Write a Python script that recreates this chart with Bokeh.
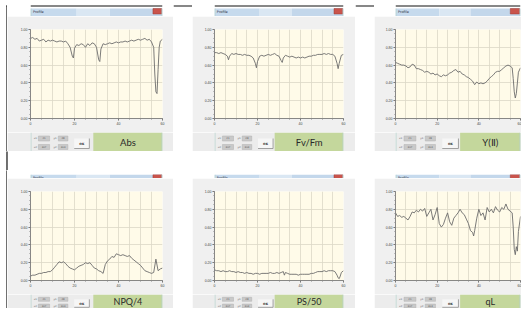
from bokeh.plotting import figure
from bokeh.models import FixedTicker, Range1d, PrintfTickFormatter, GridBox
from bokeh.embed import file_html
from bokeh.resources import INLINE
from bokeh.core.properties import value

# ---------------- data ----------------
ABS = [(0,0.90),(1,0.91),(2,0.89),(3,0.90),(4,0.87),(5,0.88),(6,0.89),(7,0.86),(8,0.88),(9,0.87),
       (10,0.88),(11,0.87),(12,0.86),(13,0.87),(14,0.87),(15,0.86),(16,0.87),(17,0.84),(18,0.80),(19,0.70),
       (19.5,0.68),(20,0.79),(21,0.83),(22,0.82),(23,0.84),(24,0.83),(25,0.80),(26,0.84),(27,0.82),(28,0.85),
       (29,0.84),(30,0.80),(31,0.66),(31.5,0.64),(32,0.78),(33,0.84),(34,0.83),(35,0.84),(36,0.85),(37,0.84),
       (38,0.85),(39,0.86),(40,0.85),(41,0.86),(42,0.86),(43,0.87),(44,0.86),(45,0.87),(46,0.88),(47,0.87),
       (48,0.88),(49,0.89),(50,0.88),(51,0.89),(52,0.90),(53,0.88),(54,0.89),(55,0.86),(56,0.80),(56.5,0.50),
       (57,0.30),(57.5,0.28),(58,0.55),(58.5,0.80),(59,0.87),(60,0.89)]
FVFM = [(0,0.74),(1,0.74),(2,0.73),(3,0.74),(4,0.73),(5,0.72),(6,0.70),(6.5,0.66),(7,0.70),(8,0.73),
        (9,0.72),(10,0.73),(11,0.72),(12,0.72),(13,0.71),(14,0.72),(15,0.71),(16,0.71),(17,0.70),(18,0.68),
        (19,0.62),(19.5,0.57),(20,0.64),(21,0.70),(22,0.71),(23,0.70),(24,0.71),(25,0.72),(26,0.71),(27,0.72),
        (28,0.73),(29,0.71),(30,0.70),(31,0.65),(31.5,0.63),(32,0.68),(33,0.71),(34,0.70),(35,0.69),(36,0.70),
        (37,0.69),(38,0.68),(39,0.69),(40,0.68),(41,0.69),(42,0.68),(43,0.69),(44,0.70),(45,0.70),(46,0.71),
        (47,0.71),(48,0.72),(49,0.72),(50,0.72),(51,0.73),(52,0.72),(53,0.73),(54,0.72),(55,0.72),(56,0.70),
        (57,0.62),(57.5,0.56),(58,0.62),(59,0.71),(60,0.72)]
YII = [(0,0.63),(1,0.62),(2,0.61),(3,0.60),(4,0.60),(5,0.59),(6,0.57),(7,0.58),(8,0.61),(9,0.60),
       (10,0.56),(11,0.56),(12,0.55),(13,0.54),(14,0.52),(15,0.53),(16,0.52),(17,0.50),(18,0.51),(19,0.49),
       (20,0.50),(21,0.48),(22,0.47),(23,0.49),(24,0.48),(25,0.49),(26,0.51),(27,0.52),(28,0.54),(29,0.55),
       (30,0.52),(31,0.53),(32,0.50),(33,0.49),(34,0.47),(35,0.46),(36,0.44),(37,0.42),(38,0.38),(39,0.41),
       (40,0.39),(41,0.40),(42,0.39),(43,0.40),(44,0.42),(45,0.45),(46,0.47),(47,0.49),(48,0.52),(49,0.53),
       (50,0.53),(51,0.55),(52,0.57),(53,0.59),(54,0.60),(55,0.59),(56,0.57),(56.5,0.45),(57,0.30),(57.5,0.23),
       (58,0.28),(58.5,0.40),(59,0.52),(60,0.57)]
NPQ4 = [(0,0.05),(1,0.06),(2,0.06),(3,0.07),(4,0.08),(5,0.08),(6,0.09),(7,0.09),(8,0.10),(9,0.10),
        (10,0.12),(11,0.15),(12,0.18),(13,0.21),(14,0.20),(15,0.21),(16,0.19),(17,0.16),(18,0.14),(19,0.13),
        (20,0.12),(21,0.14),(22,0.16),(23,0.17),(24,0.18),(25,0.20),(26,0.19),(27,0.20),(28,0.17),(29,0.14),
        (30,0.13),(31,0.11),(32,0.10),(33,0.08),(34,0.18),(35,0.22),(36,0.24),(37,0.27),(38,0.26),(39,0.30),
        (40,0.29),(41,0.28),(42,0.29),(43,0.28),(44,0.27),(45,0.28),(46,0.25),(47,0.23),(48,0.21),(49,0.19),
        (50,0.17),(51,0.14),(52,0.11),(53,0.10),(54,0.09),(55,0.08),(56,0.09),(57,0.24),(58,0.11),(59,0.13),
        (60,0.14)]
PS50 = [(0,0.12),(1,0.11),(2,0.11),(3,0.10),(4,0.11),(5,0.10),(6,0.10),(7,0.11),(8,0.10),(9,0.10),
        (10,0.09),(11,0.10),(12,0.09),(13,0.09),(14,0.08),(15,0.09),(16,0.08),(17,0.08),(18,0.07),(19,0.08),
        (20,0.08),(21,0.07),(22,0.08),(23,0.08),(24,0.08),(25,0.08),(26,0.09),(27,0.08),(28,0.08),(29,0.09),
        (30,0.08),(31,0.09),(32,0.10),(32.5,0.06),(33,0.09),(34,0.08),(35,0.07),(36,0.07),(37,0.07),(38,0.07),
        (39,0.06),(40,0.07),(41,0.07),(42,0.07),(43,0.07),(44,0.07),(45,0.08),(46,0.08),(47,0.09),(48,0.10),
        (49,0.10),(50,0.10),(51,0.11),(52,0.10),(53,0.11),(54,0.11),(55,0.11),(56,0.10),(57,0.06),(57.5,0.03),
        (58,0.02),(58.5,0.05),(59,0.09),(60,0.11)]
QL = [(0,0.76),(1,0.72),(2,0.73),(3,0.71),(4,0.72),(5,0.70),(6,0.68),(7,0.72),(8,0.77),(9,0.76),
      (10,0.79),(11,0.77),(12,0.80),(13,0.78),(14,0.81),(15,0.72),(16,0.76),(17,0.80),(18,0.68),(19,0.74),
      (20,0.82),(21,0.64),(22,0.60),(23,0.63),(24,0.70),(25,0.76),(26,0.66),(27,0.62),(28,0.70),(29,0.73),
      (30,0.76),(31,0.80),(32,0.76),(33,0.74),(34,0.69),(35,0.64),(36,0.56),(37,0.54),(37.5,0.50),(38,0.56),
      (39,0.70),(40,0.80),(41,0.73),(42,0.76),(43,0.68),(44,0.82),(45,0.77),(46,0.80),(47,0.76),(48,0.83),
      (49,0.79),(50,0.77),(51,0.82),(52,0.80),(53,0.86),(54,0.80),(55,0.78),(56,0.76),(56.5,0.60),(57,0.35),
      (57.5,0.29),(58,0.38),(58.5,0.33),(59,0.55),(60,0.72)]

SERIES = [ABS, FVFM, YII, NPQ4, PS50, QL]
LABELS = ["Abs", "Fv/Fm", "Y(Ⅱ)", "NPQ/4", "PS/50", "qL"]
X_TICKS = [0, 20, 40, 60]
Y_TICKS = [0.0, 0.2, 0.4, 0.6, 0.8, 1.0]
FIELD_NAMES = ["x1:", "y1:", "x2:", "y2:"]
FIELD_VALUES = ["21", "28", "307", "304"]
WINDOW_TITLE = "Profile"

# ---------------- layout geometry (pixels; whole page kept within 521 x 308) ----------------
LEFT_W = 7
WIN_W = [166, 163, 147]
FRAME_L = [23, 22, 21]
FRAME_R = [11, 12, 1]
GREEN_L = [79, 76, 76]
TOPPAD_H, TITLE_H, CHART_H, CTRL_H = 8, 8, 116, 19
GAP_X, GAP_Y = 19, 19
CTRL2_H = 14                       # bottom row: panel slightly compacted to stay on the page
COL_W = [LEFT_W, WIN_W[0], GAP_X, WIN_W[1], GAP_X, WIN_W[2]]
ROW_H = [TOPPAD_H + TITLE_H, CHART_H, CTRL_H, GAP_Y, TITLE_H, CHART_H, CTRL2_H]
PAGE_W = sum(COL_W)

WIN_BG = "#f0f0f0"
PLOT_BG = "#fffbe9"
GRID = "#dcd8c6"
GREEN = "#c4d79c"
BORDER = "#b4d2cc"
INK = "#111111"


def helper_fig(w, h, bg, y0=0, y1=None):
    y1 = y0 + h if y1 is None else y1
    p = figure(width=w, height=h, x_range=Range1d(0, w), y_range=Range1d(y0, y1), title=None,
               output_backend="svg", toolbar_location=None,
               x_axis_type=None, y_axis_type=None, min_border=0)
    p.outline_line_color = None
    p.background_fill_color = bg
    p.border_fill_color = bg
    for g in p.grid:
        g.visible = False
    return p


def rule_h(p, x0, x1, y):
    p.quad(left=[x0], right=[x1], bottom=[y - 0.6], top=[y + 0.6], color=INK, line_color=None)


def rule_v(p, x, y0, y1):
    p.quad(left=[x - 0.6], right=[x + 0.6], bottom=[y0], top=[y1], color=INK, line_color=None)


def title_bar(w, first_row):
    h = TITLE_H + (TOPPAD_H if first_row else 0)
    p = helper_fig(w, h, "#ffffff")
    p.quad(left=[0, w * 0.35, w * 0.6], right=[w * 0.35, w * 0.6, w],
           bottom=[0, 0, 0], top=[TITLE_H] * 3,
           color=["#c6daed", "#dae7f3", "#c3d7eb"], line_color=None)
    p.quad(left=[w - 12], right=[w - 1], bottom=[2.5], top=[8], color="#c9544c", line_color="#9a3a34",
           line_width=0.5)
    p.text(x=[3], y=[4.3], text=[WINDOW_TITLE], text_font=value("DejaVu Sans"),
           text_font_size=value("3.5px"), text_color="#334", text_baseline="middle")
    p.segment(x0=[0.5, w - 0.5], y0=[0, 0], x1=[0.5, w - 0.5], y1=[TITLE_H, TITLE_H],
              line_color=BORDER, line_width=1)
    if first_row:
        rule_h(p, 0, w, h - 5.5)
    return p


def chart(w, fl, fr, data):
    xs = [d[0] for d in data]
    ys = [d[1] for d in data]
    p = figure(width=w, height=CHART_H, x_range=Range1d(0, 60), y_range=Range1d(0, 1), title=None,
               output_backend="svg", toolbar_location=None,
               min_border_left=fl, min_border_right=fr, min_border_top=13, min_border_bottom=14)
    p.background_fill_color = PLOT_BG
    p.border_fill_color = WIN_BG
    p.outline_line_color = None
    p.xaxis.ticker = FixedTicker(ticks=X_TICKS, minor_ticks=list(range(0, 61, 5)))
    p.yaxis.ticker = FixedTicker(ticks=Y_TICKS, minor_ticks=[i / 20 for i in range(21)])
    p.yaxis.formatter = PrintfTickFormatter(format="%.2f")
    p.xgrid.ticker = FixedTicker(ticks=list(range(0, 61, 5)))
    p.ygrid.ticker = FixedTicker(ticks=Y_TICKS)
    p.grid.grid_line_color = GRID
    p.grid.grid_line_width = 0.8
    for ax in (p.xaxis[0], p.yaxis[0]):
        ax.axis_label = None
        ax.axis_line_color = "#6a6a6a"
        ax.axis_line_width = 0.8
        ax.major_tick_line_color = "#6a6a6a"
        ax.minor_tick_line_color = "#8a8a8a"
        ax.major_tick_in = 0
        ax.major_tick_out = 2
        ax.minor_tick_in = 0
        ax.minor_tick_out = 1
        ax.major_label_text_font_size = "3.5px"
        ax.major_label_text_color = "#444"
        ax.major_label_standoff = 1
    p.line(xs, ys, line_color="#6c6c6c", line_width=0.9)
    return p


def controls(w, gl, label, h):
    # the panel is laid out on a 0..19 scale; a shorter panel shows the range 1.5..19 compacted
    y0 = 0 if h == CTRL_H else 1.5
    p = helper_fig(w, h, "#ececec", y0=y0, y1=CTRL_H)
    rows_y = [(10.5, 15.5), (2, 7)]
    i = 0
    for (b, t) in rows_y:
        for (lx, bx0, bx1) in [(4, 10, 24), (29, 35, 47)]:
            p.text(x=[lx], y=[(b + t) / 2], text=[FIELD_NAMES[i]], text_font=value("DejaVu Sans"),
                   text_font_size=value("2.5px"), text_color="#555", text_baseline="middle")
            p.quad(left=[bx0], right=[bx1], bottom=[b], top=[t],
                   color="#c9c9c9", line_color="#b0b0b0", line_width=0.5)
            p.text(x=[(bx0 + bx1) / 2], y=[(b + t) / 2], text=[FIELD_VALUES[i]],
                   text_font=value("DejaVu Sans"), text_font_size=value("2.5px"), text_color="#555",
                   text_align="center", text_baseline="middle")
            i += 1
    # OK button
    p.quad(left=[55], right=[74], bottom=[3], top=[13], color="#f6f6f6", line_color=None)
    p.segment(x0=[55, 74], y0=[3, 3], x1=[74, 74], y1=[3, 13], line_color="#8c8c8c", line_width=0.8)
    p.text(x=[64.5], y=[8], text=["OK"], text_font=value("DejaVu Sans"),
           text_font_size=value("3px"), text_font_style="bold", text_color="#333",
           text_align="center", text_baseline="middle")
    # green label box
    p.quad(left=[gl], right=[w], bottom=[0], top=[CTRL_H], color=GREEN, line_color=None)
    p.text(x=[(gl + w) / 2], y=[(y0 + CTRL_H) / 2], text=[label], text_font=value("Lato"),
           text_font_size=value("9.5px" if h == CTRL_H else "9px"), text_color="#2a2a2a",
           text_align="center", text_baseline="middle")
    p.segment(x0=[0.5, w - 0.5], y0=[0, 0], x1=[0.5, w - 0.5], y1=[CTRL_H, CTRL_H],
              line_color=BORDER, line_width=1)
    return p


def blank_piece(w, h, top_rule, left_rule):
    p = helper_fig(w, h, "#ffffff")
    top = h - 5.5 if top_rule else h
    if top_rule:
        rule_h(p, 0 if not left_rule else 5.9, w, top)
    if left_rule:
        rule_v(p, 6.5, 0, top + 0.6)
    return p


children = []
row1_h = sum(ROW_H[0:3])
row2_h = sum(ROW_H[4:7])
# left margin (document rule) and gaps between windows
children.append((blank_piece(LEFT_W, row1_h, True, True), 0, 0, 3, 1))
children.append((blank_piece(LEFT_W, row2_h, False, True), 4, 0, 3, 1))
for gc in (2, 4):
    children.append((blank_piece(GAP_X, row1_h, True, False), 0, gc, 3, 1))
    children.append((blank_piece(GAP_X, row2_h, False, False), 4, gc, 3, 1))
children.append((blank_piece(PAGE_W, GAP_Y, False, True), 3, 0, 1, 6))
# windows
for r in range(2):
    base = 0 if r == 0 else 4
    for c in range(3):
        k = r * 3 + c
        gc = 1 + 2 * c
        w = WIN_W[c]
        children.append((title_bar(w, r == 0), base, gc))
        children.append((chart(w, FRAME_L[c], FRAME_R[c], SERIES[k]), base + 1, gc))
        children.append((controls(w, GREEN_L[c], LABELS[k], CTRL_H if r == 0 else CTRL2_H), base + 2, gc))

root = GridBox(children=children,
               rows=[f"{h}px" for h in ROW_H],
               cols=[f"{w}px" for w in COL_W],
               spacing=0)

open("out.html", "w").write(file_html(root, INLINE))
